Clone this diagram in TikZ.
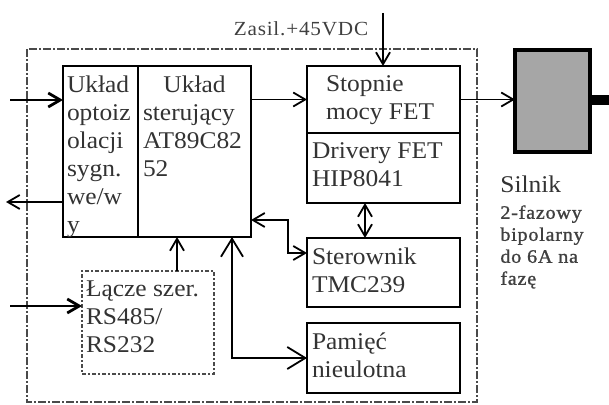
\documentclass[tikz,border=0pt]{standalone}
\usepackage{fontspec}
\setmainfont{Liberation Serif}[FakeStretch=1.06]
\newfontfamily\smallfnt{Liberation Serif}[FakeStretch=1.06,LetterSpace=4]
\newfontfamily\descfnt{Liberation Serif}[FakeStretch=1.06,LetterSpace=4,FakeBold=1.2]
\usepackage{tikz}
\usetikzlibrary{positioning,arrows.meta}
\definecolor{ink}{HTML}{333333}
\definecolor{motorgrey}{HTML}{A6A6A6}
\definecolor{framegrey}{HTML}{4A4A4A}
\newcommand{\boxtxt}[3]{\parbox[c][#2][t]{#1}{\raggedright #3}}
\tikzset{
  blk/.style={draw, line width=1.3pt, anchor=north west, outer sep=0pt,
              inner xsep=2.5pt, inner ysep=4.8pt, text=ink,
              font=\fontsize{12}{14}\selectfont},
  lacz/.style={draw=framegrey, line width=0.6pt, dash pattern=on 2pt off 1pt on 1pt off 1pt,
               anchor=north west, outer sep=0pt, inner xsep=2pt, inner ysep=4.8pt,
               text=ink, font=\fontsize{12}{14}\selectfont},
  mot/.style={draw, line width=2pt, fill=motorgrey, minimum width=37.5pt,
              minimum height=51pt, inner sep=0pt, outer sep=0pt},
  frm/.style={draw=framegrey, line width=0.6pt, dash pattern=on 4pt off 1pt on 1pt off 1pt},
  lbl/.style={text=ink, inner sep=0pt, font=\fontsize{12}{14}\selectfont},
  desc/.style={text=black!75, inner sep=0pt, align=left, font=\descfnt\fontsize{9.5}{11}\selectfont},
  ar/.style={-{Straight Barb[length=6pt,width=7pt]}, line width=0.9pt},
  dar/.style={{Straight Barb[length=6pt,width=7pt]}-{Straight Barb[length=6pt,width=7pt]}, line width=0.9pt},
  darb/.style={{Straight Barb[length=9pt,width=11pt]}-{Straight Barb[length=9pt,width=11pt]}, line width=0.9pt},
}
\begin{document}
\begin{tikzpicture}[x=0.5pt, y=-0.5pt]
  \useasboundingbox (0,0) rectangle (609,405);
  \draw[frm] (27,49) rectangle (477,402);

  \node[blk, inner xsep=2pt] (opto) at (63,66) {\boxtxt{33.5pt}{75.9pt}{Układ\\optoiz\\olacji\\sygn.\\we/w\\y}};
  \node[blk, right=0pt of opto] (ctrl) {\boxtxt{51.5pt}{75.9pt}{\makebox[\linewidth]{Układ}\\sterujący\\AT89C82\\52}};
  \node[blk, inner xsep=9.5pt] (stop) at (307,66) {\boxtxt{57.5pt}{23.9pt}{Stopnie\\mocy FET}};
  \node[blk, below=0pt of stop] (drv) {\boxtxt{71.5pt}{25.4pt}{Drivery FET\\HIP8041}};
  \node[blk, below=17.5pt of drv] (ster) {\boxtxt{71.5pt}{24.9pt}{Sterownik\\TMC239}};
  \node[blk, below=8pt of ster] (pam) {\boxtxt{71.5pt}{25.4pt}{Pamięć\\nieulotna}};
  \node[lacz] (lacze) at (82,271) {\boxtxt{62pt}{41.9pt}{Łącze szer.\\RS485/\\RS232}};
  \node[mot] (motor) at (552.5,101) {};

  \node[lbl, anchor=base west] (silnik) at (500,193) {Silnik};
  \node[desc, anchor=north west] (opis) at (500,205) {2-fazowy\\bipolarny\\do 6A na\\fazę};
  \node[desc, font=\smallfnt\fontsize{10}{12}\selectfont, anchor=base] (zasil) at (301,36) {Zasil.+45VDC};

  \coordinate (in1) at (10,100);
  \coordinate (out1) at (6,202);
  \coordinate (in2) at (10,306);
  \coordinate (zas) at (383,13);
  \coordinate (shaft) at (614,100);

  % shaft of the motor
  \draw[line width=5pt] (motor.east |- shaft) -- (shaft);

  \draw[ar, line width=1.4pt] (in1) -- (in1 -| opto.west);
  \draw[ar] (opto.west |- out1) -- (out1);
  \draw[ar, line width=1.4pt] (in2) -- (in2 -| lacze.west);
  \draw[ar] (ctrl.east |- stop.west) -- (stop.west);
  \draw[ar] (stop.east) -- (stop.east -| motor.west);
  \draw[ar] (zas) -- (zas |- stop.north);
  \draw[ar] ([xshift=14.5pt]lacze.north) -- ([xshift=14.5pt]lacze.north |- ctrl.south);
  \draw[dar] ([xshift=-9.25pt]drv.south) -- ([xshift=-9.25pt]ster.north);
  \draw[dar] ([yshift=-34.25pt]ctrl.east) -- ++(37,0) |- ([yshift=9.75pt]ster.west);
  \draw[darb] ([xshift=18.75pt]ctrl.south) |- (pam.west);
\end{tikzpicture}
\end{document}
